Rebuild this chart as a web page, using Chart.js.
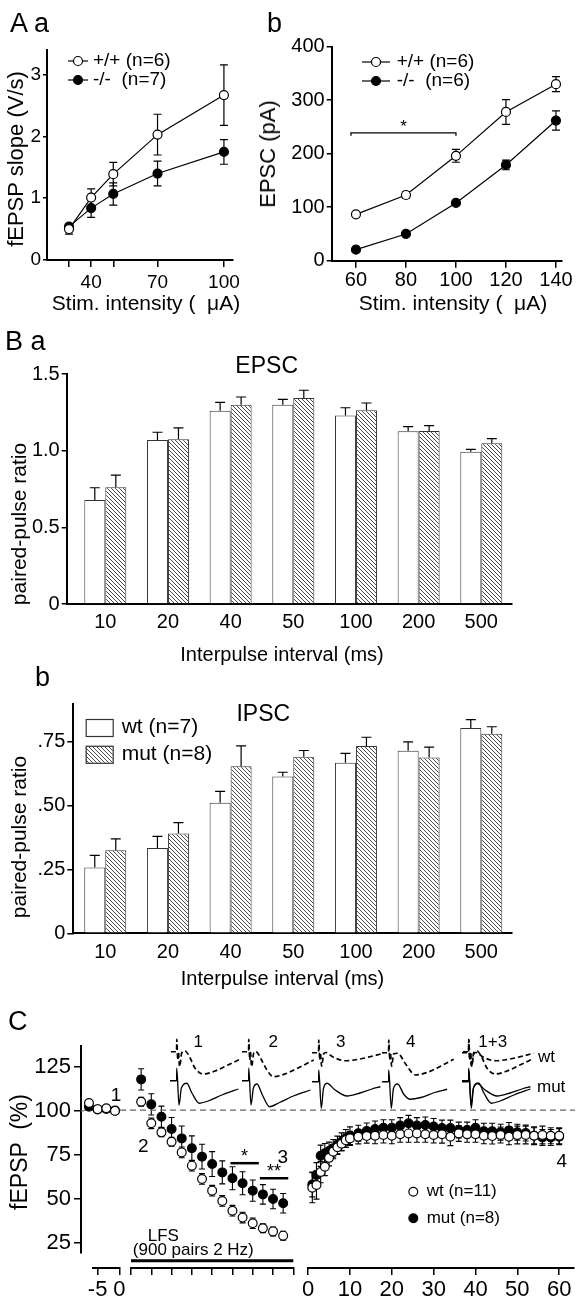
<!DOCTYPE html>
<html>
<head>
<meta charset="utf-8">
<script src="https://cdn.jsdelivr.net/npm/chart.js@4.4.1/dist/chart.umd.min.js"></script>
<style>
  body { margin: 0; background: #fff; width: 579px; height: 1304px; position: relative; overflow: hidden;
         font-family: "Liberation Sans", Arial, Helvetica, sans-serif; color: #000; }
  canvas { position: absolute; }
  .t { position: absolute; white-space: pre; line-height: 1; transform: translate(-50%, -50%); z-index: 5; }
  .t.l { transform: translate(0, -50%); }
  .t.r { transform: translate(-50%, -50%) rotate(-90deg); }
</style>
</head>
<body>
<script>
// ---- data -----------------------------------------------------------------
// A a: fEPSP slope vs stimulus intensity
const aaIntensity = [30, 40, 50, 70, 100];
const aaWt = [0.50, 1.01, 1.39, 2.03, 2.67];
const aaWtErr = [0.08, 0.14, 0.19, 0.33, 0.49];
const aaKo = [0.54, 0.84, 1.07, 1.40, 1.75];
const aaKoErr = [0.05, 0.15, 0.18, 0.20, 0.20];
const aaSeries = ["+/+ (n=6)", "-/-  (n=7)"];
const aaXTicks = [30, 40, 50, 70, 100];
const aaXLabels = ["", "40", "", "70", "100"];
const aaYTicks = [0, 1, 2, 3];

// A b: EPSC amplitude vs stimulus intensity
const abIntensity = [60, 80, 100, 120, 140];
const abWt = [86.7, 122.8, 196, 278, 330];
const abWtErr = [0, 6, 12, 23, 14];
const abKo = [20.6, 50, 108, 179, 262];
const abKoErr = [0, 0, 0, 9, 18];
const abSeries = ["+/+ (n=6)", "-/-  (n=6)"];
const abXTicks = [60, 80, 100, 120, 140];
const abYTicks = [0, 100, 200, 300, 400];
const abSig = [{ from: 58, to: 100, y: 239, label: "*" }];

// B: paired-pulse ratio per interpulse interval
const ipi = ["10", "20", "40", "50", "100", "200", "500"];
const baWt = [0.678, 1.07, 1.26, 1.30, 1.23, 1.127, 0.993];
const baWtErr = [0.08, 0.05, 0.055, 0.035, 0.05, 0.03, 0.016];
const baMut = [0.761, 1.074, 1.30, 1.344, 1.263, 1.128, 1.048];
const baMutErr = [0.08, 0.075, 0.05, 0.05, 0.048, 0.035, 0.03];
const baYTicks = [0, 0.5, 1.0, 1.5];
const baYLabels = ["0", "0.5", "1.0", "1.5"];

const bbWt = [0.257, 0.334, 0.511, 0.613, 0.667, 0.714, 0.803];
const bbWtErr = [0.048, 0.045, 0.044, 0.017, 0.037, 0.035, 0.033];
const bbMut = [0.325, 0.39, 0.653, 0.691, 0.733, 0.688, 0.781];
const bbMutErr = [0.044, 0.043, 0.08, 0.024, 0.034, 0.04, 0.027];
const bbSeries = ["wt (n=7)", "mut (n=8)"];
const bbYTicks = [0, 0.25, 0.5, 0.75];
const bbYLabels = ["0", ".25", ".50", ".75"];

// C: fEPSP (%) before, during and after LFS
const cSeries = ["wt (n=11)", "mut (n=8)"];
const cYTicks = [25, 50, 75, 100, 125];
const baseT = [-7, -5, -3, -1];
const baseWt = [104, 100.5, 101, 99.5];
const baseMut = [101.9, 100.3, 100.6, 99.8];
const baseXTicks = [-5, 0];

const lfsT = [0.5, 1, 1.5, 2, 2.5, 3, 3.5, 4, 4.5, 5, 5.5, 6, 6.5, 7, 7.5];
const lfsWt = [104.7, 92.5, 87.4, 82.1, 76.1, 68.6, 61.1, 54.5, 48.7, 43.2, 39.3, 36.1, 33.3, 31.5, 29.1];
const lfsWtErr = [2.5, 3, 2.5, 2.5, 3, 3, 3, 3, 3, 3, 3, 3, 2.5, 2.5, 2.5];
const lfsMut = [117.3, 103.2, 96.2, 89.3, 84.0, 78.4, 73.7, 69.5, 64.8, 61.5, 58.7, 54.5, 52.4, 49.8, 47.4];
const lfsMutErr = [6, 6, 6, 6.5, 7, 7, 7, 7, 6.5, 6.5, 6.5, 6, 5.5, 5.5, 5.5];
const lfsXTicks = [0, 1, 2, 3, 4, 5, 6, 7, 8];
const lfsSig = [{ from: 4.9, to: 6.3, y: 70, label: "*" }, { from: 6.35, to: 7.75, y: 61.5, label: "**" }];

const postT = [1, 2, 3, 4, 5, 6, 7, 8, 9, 10, 12, 14, 16, 18, 20, 22, 24, 26, 28, 30, 32, 34,
  36, 38, 40, 42, 44, 46, 48, 50, 52, 54, 56, 58, 60];
const postWt = [56.2, 57.7, 65, 68, 73, 76.5, 79, 81, 83, 84, 84.9, 85.3, 85.5, 85.9, 85.5, 86.3, 86.8,
  86.8, 86.3, 85.9, 86.3, 84.9, 86.8, 86.3, 86.3, 85.5, 85.3, 85.9, 84.9, 85.9, 85.9, 85.5, 85.9, 85.5, 85.5];
const postWtErr = [8.5, 8, 6, 5, 4.5, 4, 4, 4, 4, 4, 4, 4, 4.5, 4.5, 4.5, 4.5, 5, 5, 4.5, 4.5, 5, 5,
  4.5, 4.5, 4.5, 4.5, 4.5, 4.5, 4.5, 5, 5, 5, 5, 4.5, 4.5];
const postMut = [58, 63.3, 74.2, 75.6, 76.9, 78.4, 80.3, 82.1, 84, 85.5, 86.9, 88.2, 89.3, 90, 90, 91.2,
  92.5, 91.2, 91.6, 90.7, 89.8, 89.8, 88.7, 88.7, 90, 88, 88, 87.5, 88.5, 87.5, 87, 85.5, 84.5, 84.5, 85];
const postMutErr = [7, 7, 6, 5.5, 5, 5, 5, 5, 5, 5, 4.5, 4.5, 4.5, 4.5, 4.5, 4.5, 4.5, 4.5, 4.5, 4.5,
  4.5, 4.5, 4.5, 4.5, 4.5, 4.5, 4.5, 4.5, 4.5, 4.5, 4.5, 4.5, 4.5, 4.5, 4.5];
const postXTicks = [0, 10, 20, 30, 40, 50, 60];

// example traces (ms, mV with display offset), wt dashed / mut solid
const trace1Wt = [[0.3, 2.33], [2.2, 2.33], [2.25, 2.83], [2.6, 2.0], [2.8, 2.32], [3.2, 1.73], [3.9, 2.28],
  [5.0, 2.36], [6.7, 2.08], [8.3, 1.68], [11.1, 1.44], [15.0, 1.56], [19.3, 1.80], [23.3, 2.03]];
const trace1Mut = [[0, 1.17], [2.2, 1.17], [2.25, 1.67], [3.0, 0.20], [3.8, 0.88], [5.6, 1.07], [7.3, 0.68],
  [9.8, 0.27], [12.7, 0.36], [17.3, 0.60], [22.8, 0.84]];
const trace2Wt = [[0, 2.33], [2.2, 2.33], [2.25, 2.83], [2.6, 2.0], [2.8, 2.32], [3.2, 1.73], [3.9, 2.28],
  [4.6, 2.34], [6.5, 2.0], [8.3, 1.6], [10.5, 1.33], [14.5, 1.45], [19.0, 1.70], [23.9, 2.0]];
const trace2Mut = [[0, 1.17], [2.2, 1.17], [2.25, 1.67], [3.0, 0.20], [3.8, 0.88], [5.0, 1.04], [6.8, 0.60],
  [9.2, 0.13], [12.5, 0.30], [17.5, 0.58], [22.8, 0.80]];
const trace3Wt = [[0, 2.29], [2.2, 2.29], [2.25, 2.80], [2.6, 2.0], [2.8, 2.29], [3.2, 1.75], [3.9, 2.25],
  [4.6, 2.30], [7.0, 2.12], [11.1, 1.97], [16.0, 2.04], [20.0, 2.15], [23.9, 2.27]];
const trace3Mut = [[0, 1.13], [2.2, 1.13], [2.25, 1.60], [3.1, 0.07], [3.8, 0.85], [5.0, 1.07], [7.5, 0.82],
  [11.7, 0.56], [16.0, 0.68], [20.0, 0.84], [22.8, 0.93]];
const trace4Wt = [[0, 2.29], [2.2, 2.29], [2.25, 2.80], [2.6, 2.0], [2.8, 2.29], [3.2, 1.75], [3.9, 2.25],
  [5.2, 2.27], [8.0, 1.82], [11.1, 1.40], [15.0, 1.50], [19.5, 1.75], [23.9, 2.03]];
const trace4Mut = [[0, 1.13], [2.2, 1.13], [2.25, 1.60], [3.1, 0.07], [3.8, 0.85], [5.2, 1.04], [7.3, 0.62],
  [9.4, 0.43], [13.0, 0.50], [17.5, 0.70], [21.7, 0.83]];

// ---- setup ----------------------------------------------------------------
const FONT = '"Liberation Sans", Arial, Helvetica, sans-serif';
Chart.defaults.font.family = FONT;
Chart.defaults.color = "#000";
Chart.defaults.animation = false;
Chart.defaults.events = [];
Chart.defaults.plugins.legend.display = false;
Chart.defaults.plugins.tooltip.enabled = false;

// error bars (both ways, or upward only for bars)
const errorBars = {
  id: "errorBars",
  beforeDatasetsDraw(chart, args, o) {
    const ctx = chart.ctx;
    chart.data.datasets.forEach((ds, i) => {
      if (!ds.errors) return;
      const meta = chart.getDatasetMeta(i);
      const ys = chart.scales[meta.yAxisID];
      const c = o.cap || 4;
      ctx.save();
      ctx.strokeStyle = "#000";
      ctx.lineWidth = o.width || 1.2;
      ctx.beginPath();
      meta.data.forEach((el, j) => {
        const e = ds.errors[j];
        if (!e) return;
        const v = ds.data[j].y;
        const top = ys.getPixelForValue(v + e);
        const bot = ys.getPixelForValue(ds.errUp ? v : v - e);
        ctx.moveTo(el.x, top); ctx.lineTo(el.x, bot);
        ctx.moveTo(el.x - c, top); ctx.lineTo(el.x + c, top);
        if (!ds.errUp) { ctx.moveTo(el.x - c, bot); ctx.lineTo(el.x + c, bot); }
      });
      ctx.stroke();
      ctx.restore();
    });
  }
};

// dashed baseline, phase kept in page coordinates across canvases
const refLine = {
  id: "refLine",
  beforeDatasetsDraw(chart, args, o) {
    if (o.value == null) return;
    const ctx = chart.ctx;
    const y = chart.scales.y.getPixelForValue(o.value);
    const x0 = o.fromArea ? chart.chartArea.left : 0;
    ctx.save();
    ctx.strokeStyle = "#666";
    ctx.lineWidth = 1.2;
    ctx.setLineDash([6, 4]);
    ctx.lineDashOffset = (o.pageLeft + x0) % 10;
    ctx.beginPath();
    ctx.moveTo(x0, y);
    ctx.lineTo(o.to != null ? o.to : chart.width, y);
    ctx.stroke();
    ctx.restore();
  }
};

// significance bars with stars
const sigBars = {
  id: "sigBars",
  afterDatasetsDraw(chart, args, o) {
    if (!o.bars) return;
    const { x, y } = chart.scales;
    const ctx = chart.ctx;
    ctx.save();
    ctx.strokeStyle = "#000";
    ctx.fillStyle = "#000";
    ctx.lineWidth = o.width || 1.5;
    ctx.font = (o.font || 16) + "px " + FONT;
    ctx.textAlign = "center";
    ctx.textBaseline = "middle";
    o.bars.forEach(b => {
      const x1 = x.getPixelForValue(b.from), x2 = x.getPixelForValue(b.to), yy = y.getPixelForValue(b.y);
      ctx.beginPath();
      if (o.tick) {
        ctx.moveTo(x1, yy + o.tick); ctx.lineTo(x1, yy); ctx.lineTo(x2, yy); ctx.lineTo(x2, yy + o.tick);
      } else {
        ctx.moveTo(x1, yy); ctx.lineTo(x2, yy);
      }
      ctx.stroke();
      ctx.fillText(b.label, (x1 + x2) / 2, yy - (o.gap || 6));
    });
    ctx.restore();
  }
};

// thick bar marking the LFS period
const stimBar = {
  id: "stimBar",
  afterDatasetsDraw(chart, args, o) {
    if (o.from == null) return;
    const x = chart.scales.x;
    const ctx = chart.ctx;
    const yy = chart.chartArea.bottom + o.dy;
    ctx.save();
    ctx.strokeStyle = "#000";
    ctx.lineWidth = o.width;
    ctx.beginPath();
    ctx.moveTo(x.getPixelForValue(o.from), yy);
    ctx.lineTo(x.getPixelForValue(o.to), yy);
    ctx.stroke();
    ctx.restore();
  }
};

// legend placed inside the plot
const inlineLegend = {
  id: "inlineLegend",
  afterDraw(chart, args, o) {
    if (o.x == null) return;
    const ctx = chart.ctx;
    ctx.save();
    ctx.font = o.font + "px " + FONT;
    ctx.textBaseline = "middle";
    ctx.textAlign = "left";
    chart.data.datasets.forEach((ds, i) => {
      const y = o.y + i * o.gap;
      ctx.strokeStyle = "#000";
      ctx.lineWidth = 1.2;
      if (o.box) {
        ctx.fillStyle = ds.backgroundColor;
        ctx.fillRect(o.x, y - o.box[1] / 2, o.box[0], o.box[1]);
        ctx.strokeStyle = "#333";
        ctx.strokeRect(o.x + 0.5, y - o.box[1] / 2 + 0.5, o.box[0], o.box[1]);
      } else {
        if (o.line) {
          ctx.beginPath(); ctx.moveTo(o.x - o.line, y); ctx.lineTo(o.x + o.line, y); ctx.stroke();
        }
        ctx.fillStyle = ds.pointBackgroundColor;
        ctx.lineWidth = ds.pointBorderWidth;
        Chart.helpers.drawPoint(ctx, { pointStyle: "circle", radius: ds.pointRadius,
          borderWidth: ds.pointBorderWidth, rotation: 0 }, o.x, y);
      }
      ctx.fillStyle = "#000";
      ctx.fillText(ds.label, o.x + o.dx, y);
    });
    ctx.restore();
  }
};

Chart.register(errorBars, refLine, sigBars, stimBar, inlineLegend);

function place(left, top, w, h, z) {
  const c = document.createElement("canvas");
  c.width = w; c.height = h;
  c.style.left = left + "px"; c.style.top = top + "px";
  c.style.width = w + "px"; c.style.height = h + "px";
  if (z) c.style.zIndex = z;
  document.body.appendChild(c);
  return c;
}

function label(text, x, y, size, cls) {
  const d = document.createElement("div");
  d.className = "t" + (cls ? " " + cls : "");
  d.textContent = text;
  d.style.left = x + "px"; d.style.top = y + "px"; d.style.fontSize = size + "px";
  document.body.appendChild(d);
}

// linear axis with fixed box size and explicit ticks
function axis(o) {
  return {
    type: "linear", min: o.min, max: o.max, offset: false,
    afterFit: s => { if (s.isHorizontal()) s.height = o.size; else s.width = o.size; },
    afterBuildTicks: s => { s.ticks = o.ticks.map(v => ({ value: v })); },
    border: { display: true, color: "#000", width: 2 },
    grid: { drawOnChartArea: false, offset: false, drawTicks: o.tick > 0, tickLength: o.tick || 0,
            color: "#000", lineWidth: 1.5 },
    ticks: { padding: o.pad, font: { size: o.font }, color: "#000", autoSkip: false, maxRotation: 0,
             callback: (v, i) => (o.labels ? o.labels[i] : v) }
  };
}
const hiddenAxis = (min, max) => ({ type: "linear", display: false, min, max });

function lineSet(lbl, xs, ys, errs, open) {
  return {
    label: lbl, data: xs.map((x, i) => ({ x, y: ys[i] })), errors: errs,
    borderColor: "#000", borderWidth: 1.2, pointRadius: 4.5, pointBorderWidth: 1.2,
    pointBorderColor: "#000", pointBackgroundColor: open ? "#fff" : "#000",
    backgroundColor: open ? "#fff" : "#000", tension: 0, clip: false
  };
}
function pointSet(lbl, xs, ys, errs, open) {
  return Object.assign(lineSet(lbl, xs, ys, errs, open), { showLine: false, pointRadius: 4.4 });
}

// hatch for mutant bars
function hatch() {
  const c = document.createElement("canvas");
  c.width = 4; c.height = 4;
  const g = c.getContext("2d");
  g.fillStyle = "#fff"; g.fillRect(0, 0, 4, 4);
  g.strokeStyle = "#333"; g.lineWidth = 0.9;
  g.beginPath();
  g.moveTo(0, 0); g.lineTo(4, 4);
  g.moveTo(-1, 3); g.lineTo(1, 5);
  g.moveTo(3, -1); g.lineTo(5, 1);
  g.stroke();
  return g.createPattern(c, "repeat");
}
const HATCH = hatch();

function barSet(lbl, ys, errs, fill) {
  return {
    label: lbl, data: ys.map((y, i) => ({ x: i, y })), errors: errs, errUp: true,
    backgroundColor: fill, borderColor: "#333", borderWidth: 1, borderSkipped: "bottom",
    categoryPercentage: 0.67, barPercentage: 1
  };
}
const ipiIdx = ipi.map((_, i) => i);

// ---- A a ------------------------------------------------------------------
new Chart(place(0, 30, 250, 290), {
  type: "line",
  data: { datasets: [
    lineSet(aaSeries[0], aaIntensity, aaWt, aaWtErr, true),
    lineSet(aaSeries[1], aaIntensity, aaKo, aaKoErr, false)
  ] },
  options: {
    responsive: false,
    layout: { padding: { left: 0, top: 20, right: 17, bottom: 0 } },
    scales: {
      x: axis({ min: 20.06, max: 104.1, ticks: aaXTicks, labels: aaXLabels, size: 60, tick: 7, pad: 4, font: 19 }),
      y: axis({ min: 0, max: 3.4, ticks: aaYTicks, size: 47, tick: 4, pad: 2, font: 19 })
    },
    plugins: {
      errorBars: { cap: 4 },
      inlineLegend: { x: 78, y: 31, gap: 19, line: 10, dx: 15, font: 19 }
    }
  }
});

// ---- A b ------------------------------------------------------------------
new Chart(place(262, 30, 317, 290), {
  type: "line",
  data: { datasets: [
    lineSet(abSeries[0], abIntensity, abWt, abWtErr, true),
    lineSet(abSeries[1], abIntensity, abKo, abKoErr, false)
  ] },
  options: {
    responsive: false,
    layout: { padding: { left: 0, top: 16.7, right: 17.3, bottom: 0 } },
    scales: {
      x: axis({ min: 50.3, max: 142.3, ticks: abXTicks, size: 59.3, tick: 7, pad: 1, font: 20 }),
      y: axis({ min: 0, max: 400, ticks: abYTicks, size: 69.7, tick: 5, pad: 2, font: 20 })
    },
    plugins: {
      errorBars: { cap: 4 },
      sigBars: { bars: abSig, width: 1.3, tick: 3, font: 17, gap: 6 },
      inlineLegend: { x: 114, y: 32, gap: 19, line: 14, dx: 20.7, font: 19 }
    }
  }
});

// ---- B a ------------------------------------------------------------------
new Chart(place(0, 345, 579, 300), {
  type: "bar",
  data: { datasets: [barSet(bbSeries[0], baWt, baWtErr, "#fff"), barSet(bbSeries[1], baMut, baMutErr, HATCH)] },
  options: {
    responsive: false,
    layout: { padding: { left: 0, top: 29, right: 67.3, bottom: 0 } },
    scales: {
      x: axis({ min: -0.616, max: 6.485, ticks: ipiIdx, labels: ipi, size: 41, tick: 0, pad: 6, font: 20 }),
      y: axis({ min: 0, max: 1.5, ticks: baYTicks, labels: baYLabels, size: 66.7, tick: 5, pad: 2, font: 20 })
    },
    plugins: { errorBars: { cap: 5 } }
  }
});

// ---- B b ------------------------------------------------------------------
new Chart(place(0, 690, 579, 300), {
  type: "bar",
  data: { datasets: [barSet(bbSeries[0], bbWt, bbWtErr, "#fff"), barSet(bbSeries[1], bbMut, bbMutErr, HATCH)] },
  options: {
    responsive: false,
    layout: { padding: { left: 0, top: 13.3, right: 67.3, bottom: 0 } },
    scales: {
      x: axis({ min: -0.51, max: 6.485, ticks: ipiIdx, labels: ipi, size: 56.7, tick: 0, pad: 7, font: 20 }),
      y: axis({ min: 0, max: 0.897, ticks: bbYTicks, labels: bbYLabels, size: 73.3, tick: 6, pad: 2, font: 20 })
    },
    plugins: {
      errorBars: { cap: 5 },
      inlineLegend: { x: 85.7, y: 37.5, gap: 26.8, box: [27, 17], dx: 36, font: 21 }
    }
  }
});

// ---- C: y axis, baseline, LFS, recovery ------------------------------------
new Chart(place(0, 1030, 84, 250), {
  type: "scatter",
  data: { datasets: [] },
  options: {
    responsive: false,
    layout: { padding: { left: 0, top: 15, right: 0, bottom: 27 } },
    scales: {
      x: hiddenAxis(0, 1),
      y: axis({ min: 19.3, max: 136.7, ticks: cYTicks, size: 81, tick: 7, pad: 3, font: 22 })
    },
    plugins: { refLine: { value: 100, fromArea: true, pageLeft: 0 } }
  }
});

new Chart(place(84, 1030, 44, 274), {
  type: "scatter",
  data: { datasets: [
    pointSet(cSeries[0], baseT, baseWt, null, true),
    pointSet(cSeries[1], baseT, baseMut, null, false)
  ] },
  options: {
    responsive: false,
    layout: { padding: { left: 9.3, top: 15, right: 8.7, bottom: 0 } },
    scales: {
      x: axis({ min: -6, max: 0, ticks: baseXTicks, size: 36, tick: 7, pad: 2, font: 22 }),
      y: hiddenAxis(10.85, 136.7)
    },
    plugins: { refLine: { value: 100, pageLeft: 84 } }
  }
});

new Chart(place(125, 1030, 175, 274), {
  type: "scatter",
  data: { datasets: [
    pointSet(cSeries[0], lfsT, lfsWt, lfsWtErr, true),
    pointSet(cSeries[1], lfsT, lfsMut, lfsMutErr, false)
  ] },
  options: {
    responsive: false,
    layout: { padding: { left: 6, top: 15, right: 6.7, bottom: 0 } },
    scales: {
      x: axis({ min: 0, max: 8, ticks: lfsXTicks, labels: lfsXTicks.map(() => ""), size: 36, tick: 7, pad: 2, font: 22 }),
      y: hiddenAxis(10.85, 136.7)
    },
    plugins: {
      refLine: { value: 100, pageLeft: 125 },
      errorBars: { cap: 3, width: 1.1 },
      stimBar: { from: 0, to: 8, dy: -7.3, width: 3 },
      sigBars: { bars: lfsSig, width: 2.5, font: 18, gap: 6 }
    }
  }
});

new Chart(place(300, 1030, 279, 274), {
  type: "scatter",
  data: { datasets: [
    pointSet(cSeries[0], postT, postWt, postWtErr, true),
    pointSet(cSeries[1], postT, postMut, postMutErr, false)
  ] },
  options: {
    responsive: false,
    layout: { padding: { left: 3.5, top: 15, right: 1, bottom: 0 } },
    scales: {
      x: axis({ min: 0, max: 63.4, ticks: postXTicks, size: 36, tick: 7, pad: 2, font: 22 }),
      y: hiddenAxis(10.85, 136.7)
    },
    plugins: {
      refLine: { value: 100, pageLeft: 300, to: 275 },
      errorBars: { cap: 3, width: 1.1 },
      inlineLegend: { x: 113.3, y: 161.7, gap: 26.6, dx: 13.4, font: 17 }
    }
  }
});

// example traces above panel C
function traceSet(points, dashed) {
  return {
    data: points.map(p => ({ x: p[0], y: p[1] })), borderColor: "#000",
    borderWidth: dashed ? 1.7 : 1.3, borderDash: dashed ? [5, 3] : [], pointRadius: 0,
    cubicInterpolationMode: "monotone", clip: false, fill: false
  };
}
const insets = [
  { left: 170, wt: [trace1Wt], mut: [trace1Mut] },
  { left: 242, wt: [trace2Wt], mut: [trace2Mut] },
  { left: 312, wt: [trace3Wt], mut: [trace3Mut] },
  { left: 382, wt: [trace4Wt], mut: [trace4Mut] },
  { left: 462, wt: [trace1Wt, trace3Wt], mut: [trace1Mut, trace3Mut] }
];
insets.forEach(ins => {
  new Chart(place(ins.left, 1035, 72, 75, 3), {
    type: "line",
    data: { datasets: ins.wt.map(t => traceSet(t, true)).concat(ins.mut.map(t => traceSet(t, false))) },
    options: {
      responsive: false,
      layout: { padding: 0 },
      scales: { x: hiddenAxis(0, 24), y: hiddenAxis(0, 3) }
    }
  });
});

// ---- text -----------------------------------------------------------------
label("A a", 10, 22.5, 27, "l");
label("b", 267, 22.5, 27, "l");
label("fEPSP slope (V/s)", 16, 159, 22, "r");
label("Stim. intensity (  \u03bcA)", 146, 302, 21);
label("EPSC (pA)", 268, 154, 22, "r");
label("Stim. intensity (  \u03bcA)", 453, 302, 21);

label("B a", 5, 341, 27, "l");
label("EPSC", 266.7, 365, 23);
label("paired-pulse ratio", 18, 524, 21, "r");
label("Interpulse interval (ms)", 282, 654, 20);
label("b", 35, 676.7, 27, "l");
label("IPSC", 263.3, 713.3, 23);
label("paired-pulse ratio", 18, 837, 21, "r");
label("Interpulse interval (ms)", 282.5, 978, 20);

label("C", 8, 1021, 27, "l");
label("fEPSP  (%)", 18.5, 1151.5, 23, "r");
label("1", 116, 1094, 19);
label("2", 143.3, 1145, 19);
label("3", 282.7, 1156, 19);
label("4", 561.7, 1160, 19);
label("LFS", 163.3, 1235, 17);
label("(900 pairs 2 Hz)", 193.3, 1249.3, 17);
label("1", 198.3, 1040.7, 17);
label("2", 273.3, 1040.7, 17);
label("3", 340.7, 1040.7, 17);
label("4", 410.7, 1040.7, 17);
label("1+3", 492.7, 1040.7, 17);
label("wt", 538, 1055.5, 17, "l");
label("mut", 537, 1085.5, 17, "l");
</script>
</body>
</html>
